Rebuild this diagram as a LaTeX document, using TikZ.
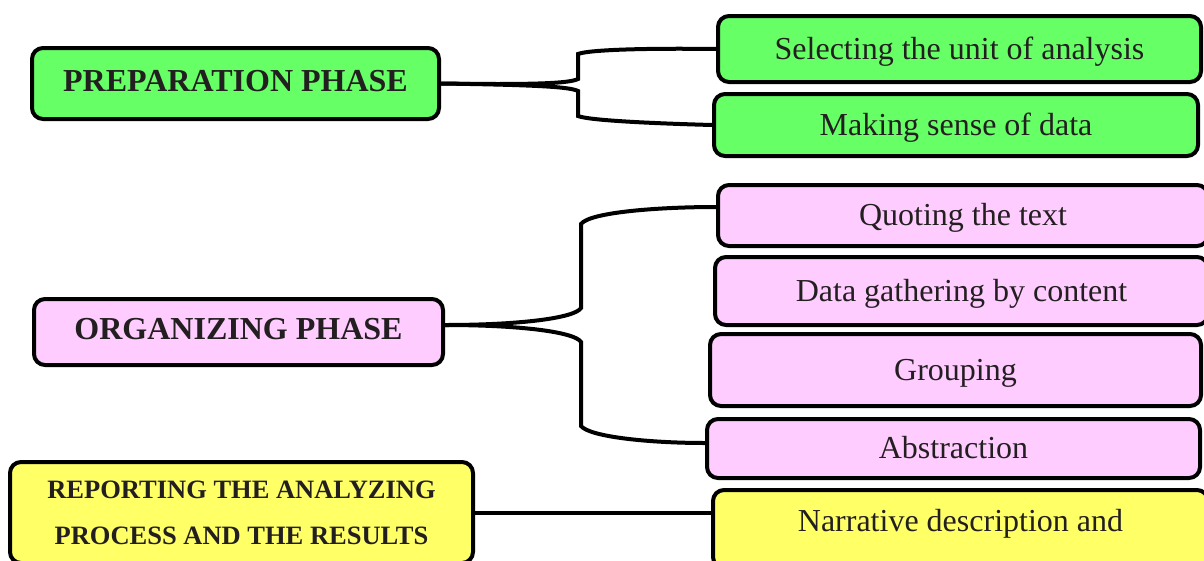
\documentclass[tikz,border=0pt]{standalone}
\usepackage{fontspec}
\setmainfont{Liberation Serif}
\usetikzlibrary{positioning}
\definecolor{phasegreen}{RGB}{102,255,102}
\definecolor{phasepink}{RGB}{255,204,255}
\definecolor{phaseyellow}{RGB}{255,255,102}
\definecolor{inkdark}{RGB}{35,31,32}

\begin{document}
\begin{tikzpicture}[x=1pt, y=-1pt,
    roundbox/.style={draw=black, line width=4pt, rounded corners=11pt, inner sep=0pt, text=inkdark, align=center},
    phasebox/.style={roundbox, font=\fontsize{32}{38}\selectfont\bfseries, text depth=6pt},
    stepbox/.style={roundbox, font=\fontsize{32}{38}\selectfont, text height=22pt, text depth=2pt},
    link/.style={line width=4pt}]
        \useasboundingbox (0,0) rectangle (1204,560);

        % preparation
        \node[phasebox, fill=phasegreen, minimum width=407pt, minimum height=71pt] (prep) at (235.5,83.5) {PREPARATION PHASE};
        \node[stepbox, fill=phasegreen, minimum width=483pt, minimum height=66pt] (select) at (959.5,49) {Selecting the unit of analysis};
        \node[stepbox, fill=phasegreen, minimum width=484pt, minimum height=62pt] (making) at (956,125) {Making sense of data};

        % organizing
        \node[phasebox, fill=phasepink, minimum width=409pt, minimum height=66pt] (org) at (238.5,332) {ORGANIZING PHASE};
        \node[stepbox, fill=phasepink, minimum width=490pt, minimum height=61pt] (quoting) at (963,215.5) {Quoting the text};
        \node[stepbox, fill=phasepink, minimum width=493pt, minimum height=68pt] (gather) at (961.5,291) {Data gathering by content};
        \node[stepbox, fill=phasepink, minimum width=491pt, minimum height=72pt] (grouping) at (955.5,370) {Grouping};
        \node[stepbox, fill=phasepink, minimum width=493pt, minimum height=59pt] (abstraction) at (953.5,448.5) {Abstraction};

        % reporting
        \node[roundbox, fill=phaseyellow, font=\fontsize{26.5}{46}\selectfont\bfseries, minimum width=463pt, minimum height=101pt] (report) at (241.5,512.5) {REPORTING THE ANALYZING\\PROCESS AND THE RESULTS};
        \node[stepbox, fill=phaseyellow, text depth=17pt, minimum width=495pt, minimum height=78pt] (narrative) at (960.5,529) {Narrative description and};

        \draw[link] (prep.east) .. controls (540,85) and (570,83) .. (578,79) -- (578,54) .. controls (588,50) and (640,48) .. (select.west);
        \draw[link] (prep.east) .. controls (540,85) and (570,87) .. (578,91) -- (578,116) .. controls (588,120) and (640,123) .. (making.west);

        \draw[link] ([yshift=7pt]org.east) .. controls (520,325) and (575,318) .. (581,308) -- (581,224) .. controls (590,212) and (660,207) .. ([yshift=8.5pt]quoting.west);
        \draw[link] ([yshift=7pt]org.east) .. controls (520,325) and (575,332) .. (581,342) -- (581,426) .. controls (590,437) and (650,443) .. ([yshift=5.5pt]abstraction.west);

        \draw[link] (report.east) -- (report.east -| narrative.west);
    \end{tikzpicture}
\end{document}
